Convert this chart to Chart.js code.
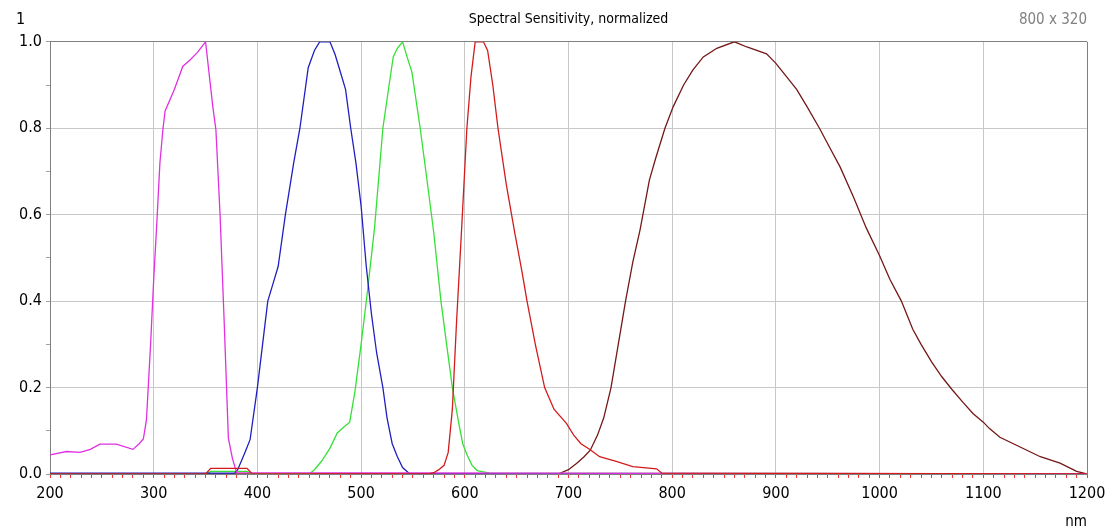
<!DOCTYPE html>
<html>
<head>
<meta charset="utf-8">
<title>Spectral Sensitivity, normalized</title>
<script src="https://cdn.jsdelivr.net/npm/chart.js@4.4.1/dist/chart.umd.min.js"></script>
<style>
    body { margin: 0; background: #fff; }
    #wrap { position: relative; width: 1117px; height: 529px; }
    .corner { position: absolute; font-family: 'Liberation Sans Narrow', 'DejaVu Sans Condensed', sans-serif; font-size: 15px; line-height: 16px; }
    #cornerLeft { left: 16px; top: 11px; color: #000; font-size: 16px; }
    #cornerRight { right: 30px; top: 11px; color: #808080; }
    #unitLabel { right: 30px; top: 513px; color: #000; }
</style>
</head>
<body>
<div id="wrap">
    <canvas id="spectralChart"></canvas>
    <div class="corner" id="cornerLeft">1</div>
    <div class="corner" id="cornerRight">800 x 320</div>
    <div class="corner" id="unitLabel">nm</div>
</div>
<script>
// All Variables
const spectralChart = document.getElementById('spectralChart');
const fontFamily = "'Liberation Sans Narrow', 'DejaVu Sans Condensed', sans-serif";

// UV channel
const uvNm =   [200, 216, 229, 239, 248, 264, 280, 286, 290, 293, 297, 300, 303, 306, 309, 311, 320, 328, 335, 342, 350, 357, 360, 364, 368, 372, 376, 380, 1200];
const uvSens = [0.044, 0.052, 0.05, 0.057, 0.069, 0.069, 0.057, 0.07, 0.081, 0.125, 0.3, 0.45, 0.58, 0.72, 0.8, 0.84, 0.89, 0.943, 0.958, 0.975, 1.0, 0.85, 0.796, 0.6, 0.35, 0.083, 0.035, 0.003, 0.0];

// Blue channel
const blueNm =   [200, 378, 381, 388, 393, 400, 405, 410, 415, 420, 427, 435, 441, 449, 455, 460, 470, 475, 480, 485, 490, 495, 500, 505, 510, 515, 521, 525, 530, 535, 540, 547, 1200];
const blueSens = [0.002, 0.002, 0.01, 0.05, 0.08, 0.2, 0.3, 0.4, 0.44, 0.48, 0.6, 0.72, 0.8, 0.94, 0.98, 1.0, 1.0, 0.97, 0.93, 0.89, 0.8, 0.72, 0.62, 0.48, 0.37, 0.28, 0.2, 0.13, 0.07, 0.04, 0.015, 0.0, 0.0];

// Green channel
const greenNm =   [200, 350, 355, 390, 395, 450, 455, 462, 470, 477, 484, 489, 494, 500, 506, 513, 521, 527, 531, 535, 540, 545, 549, 557, 563, 570, 577, 583, 588, 594, 598, 602, 607, 612, 624, 1200];
const greenSens = [0, 0, 0.006, 0.006, 0, 0, 0.01, 0.03, 0.06, 0.095, 0.11, 0.12, 0.19, 0.3, 0.42, 0.57, 0.8, 0.9, 0.965, 0.985, 1.0, 0.96, 0.93, 0.8, 0.69, 0.56, 0.4, 0.29, 0.2, 0.12, 0.07, 0.045, 0.02, 0.008, 0.002, 0];

// Red channel
const redNm =   [200, 350, 355, 390, 395, 565, 570, 575, 580, 584, 588, 592, 597, 602, 606, 610, 618, 622, 627, 632, 640, 648, 655, 660, 668, 677, 686, 698, 705, 712, 721, 730, 746, 762, 785, 790, 1200];
const redSens = [0, 0, 0.013, 0.013, 0, 0, 0.003, 0.01, 0.02, 0.05, 0.15, 0.35, 0.57, 0.8, 0.92, 1.0, 1.0, 0.98, 0.9, 0.8, 0.67, 0.56, 0.47, 0.4, 0.3, 0.2, 0.15, 0.117, 0.09, 0.07, 0.056, 0.04, 0.029, 0.017, 0.012, 0.002, 0];

// NIR channel
const irNm =   [200, 690, 700, 708, 715, 721, 728, 734, 741, 748, 755, 762, 769, 778, 784, 793, 801, 811, 820, 830, 843, 860, 872, 891, 900, 910, 920, 930, 942, 952, 962, 975, 987, 1000, 1010, 1021, 1032, 1040, 1050, 1060, 1070, 1080, 1090, 1100, 1106, 1116, 1135, 1155, 1174, 1190, 1200];
const irSens = [0, 0, 0.01, 0.025, 0.04, 0.055, 0.09, 0.13, 0.2, 0.3, 0.4, 0.49, 0.565, 0.68, 0.73, 0.8, 0.85, 0.9, 0.935, 0.965, 0.985, 1.0, 0.988, 0.972, 0.95, 0.92, 0.89, 0.85, 0.8, 0.755, 0.71, 0.64, 0.57, 0.505, 0.45, 0.4, 0.335, 0.3, 0.26, 0.225, 0.195, 0.167, 0.14, 0.12, 0.105, 0.085, 0.063, 0.04, 0.025, 0.006, 0];

// Axis range
const nmMin = 200;
const nmMax = 1200;
const nmStep = 10;
const sensStep = 0.1;

function toPoints(xs, ys) {
    return xs.map((x, i) => ({ x: x, y: ys[i] }));
}

function line(label, xs, ys, color) {
    return {
        label: label,
        data: toPoints(xs, ys),
        borderColor: color,
        backgroundColor: color,
        borderWidth: 1.3,
        pointRadius: 0,
        tension: 0,
        fill: false
    };
}

// ---------- Spectral Sensitivity Chart Start ------------- //
new Chart(spectralChart, {
    type: 'line',
    data: {
        datasets: [
            line('Red', redNm, redSens, '#d21c1c'),
            line('UV', uvNm, uvSens, '#e030e0'),
            line('Blue', blueNm, blueSens, '#2020c0'),
            line('Green', greenNm, greenSens, '#36e036'),
            line('NIR', irNm, irSens, '#741818')
        ]
    },

    options: {
        responsive: true,
        maintainAspectRatio: false,
        animation: false,
        layout: {
            padding: { left: 0, right: 30, top: 0, bottom: 0 }
        },
        plugins: {
            legend: { display: false },
            tooltip: { enabled: false },
            title: {
                display: true,
                fullSize: false,
                text: 'Spectral Sensitivity, normalized',
                color: '#000',
                font: { family: fontFamily, size: 14, weight: 'normal', lineHeight: 1.2 },
                padding: { top: 11, bottom: 14 }
            }
        },
        scales: {
            x: {
                type: 'linear',
                min: nmMin,
                max: nmMax,
                afterFit: (scale) => { scale.height = 55; },
                ticks: {
                    stepSize: nmStep,
                    autoSkip: false,
                    maxRotation: 0,
                    padding: 6,
                    color: '#000',
                    font: { family: fontFamily, size: 16 },
                    callback: (value) => Math.round(value) % 100 === 0 ? Math.round(value) : ''
                },
                grid: {
                    tickLength: 4,
                    lineWidth: 1,
                    color: (ctx) => {
                        const v = Math.round(ctx.tick.value);
                        if (v === nmMax) return '#808080';
                        return v % 100 === 0 ? '#c8c8c8' : 'rgba(0,0,0,0)';
                    },
                    tickColor: '#ff3030',
                    tickWidth: 1
                },
                border: { display: true, color: '#808080', width: 1 }
            },
            y: {
                min: 0,
                max: 1,
                afterFit: (scale) => { scale.width = 50; },
                ticks: {
                    stepSize: sensStep,
                    padding: 4,
                    color: '#000',
                    font: { family: fontFamily, size: 16 },
                    callback: (value) => Math.round(value * 10) % 2 === 0 ? value.toFixed(1) : ''
                },
                grid: {
                    tickLength: 4,
                    lineWidth: 1,
                    color: (ctx) => {
                        const v = Math.round(ctx.tick.value * 10);
                        if (v === 10) return '#808080';
                        return v % 2 === 0 ? '#c8c8c8' : 'rgba(0,0,0,0)';
                    },
                    tickColor: '#a0a0a0'
                },
                border: { display: true, color: '#808080', width: 1 }
            }
        }
    }
});
// ---------- Spectral Sensitivity Chart End ------------- //
</script>
</body>
</html>
